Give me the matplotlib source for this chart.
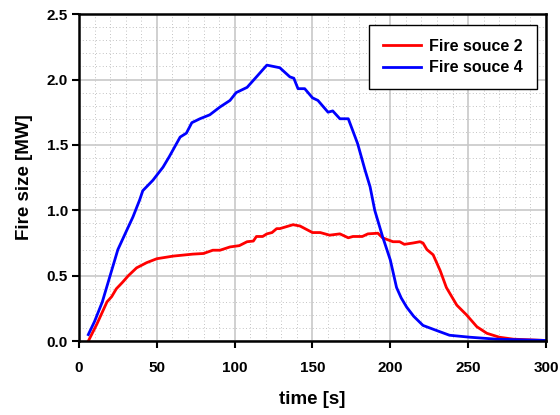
import matplotlib
matplotlib.use("Agg")
import matplotlib.pyplot as plt
from matplotlib.ticker import MultipleLocator

plt.rcParams['font.family'] = ['Liberation Sans', 'DejaVu Sans']
plt.rcParams['font.weight'] = 'bold'

t2 = [6, 11.5, 18, 21, 24, 28, 31.7, 37, 43.5, 50, 60.5, 73, 80, 86, 90.6, 97, 103, 108, 112, 114,
      118, 120.7, 124, 127, 129, 137.5, 142, 150, 155, 161, 167.6, 173, 176, 182, 185.6, 192, 195,
      201.7, 206, 209, 214.5, 219, 221, 223.5, 227.5, 232, 236, 242.7, 249, 255.6, 262, 270, 279, 300]
fs2 = [0.0, 0.13, 0.30, 0.34, 0.40, 0.45, 0.50, 0.56, 0.60, 0.63, 0.65, 0.665, 0.67, 0.695, 0.695,
       0.72, 0.73, 0.76, 0.765, 0.80, 0.80, 0.82, 0.83, 0.86, 0.86, 0.89, 0.88, 0.83, 0.83, 0.81, 0.82,
       0.79, 0.80, 0.80, 0.82, 0.825, 0.79, 0.76, 0.76, 0.74, 0.75, 0.76, 0.75, 0.70, 0.66, 0.54, 0.41,
       0.275, 0.20, 0.11, 0.06, 0.03, 0.015, 0.005]

t4 = [6, 10, 15, 20, 25, 30.8, 34.7, 39, 41, 47.5, 54, 58, 65, 69, 72.5, 77.7, 84, 90.6, 97, 101,
      108, 114, 120.7, 129, 135.5, 138, 140.7, 145, 150, 153.5, 160, 163, 167.6, 173, 179, 183.7,
      187, 190, 195, 200, 204, 207, 210.5, 215, 221, 230, 238, 251, 268, 300]
fs4 = [0.05, 0.15, 0.30, 0.50, 0.70, 0.85, 0.95, 1.08, 1.15, 1.23, 1.33, 1.41, 1.56, 1.59, 1.67,
       1.70, 1.73, 1.79, 1.84, 1.90, 1.94, 2.02, 2.11, 2.09, 2.02, 2.01, 1.93, 1.93, 1.86, 1.84, 1.75,
       1.76, 1.70, 1.70, 1.51, 1.31, 1.18, 1.00, 0.80, 0.62, 0.41, 0.33, 0.26, 0.19, 0.12, 0.08, 0.045,
       0.03, 0.015, 0.005]

labels = ['Fire souce 2', 'Fire souce 4']

fig = plt.figure(figsize=(5.6, 4.15), dpi=100)
ax = fig.add_axes([0.141, 0.178, 0.834, 0.788])

ax.plot(t2, fs2, color='#ff0000', lw=2, label=labels[0])
ax.plot(t4, fs4, color='#0000ff', lw=2, label=labels[1])

ax.set_xlim(0, 300)
ax.set_ylim(0, 2.5)
ax.xaxis.set_major_locator(MultipleLocator(50))
ax.xaxis.set_minor_locator(MultipleLocator(10))
ax.yaxis.set_major_locator(MultipleLocator(0.5))
ax.yaxis.set_minor_locator(MultipleLocator(0.1))
ax.set_yticks([0, 0.5, 1.0, 1.5, 2.0, 2.5])
ax.set_yticklabels(['0.0', '0.5', '1.0', '1.5', '2.0', '2.5'])
ax.grid(which='major', color='#c8c8c8', lw=1.2, ls='-')
ax.grid(which='minor', color='#b0b0b0', lw=0.6, ls=(0, (1, 3)))
ax.set_axisbelow(True)
ax.tick_params(which='minor', length=0)
ax.tick_params(which='major', direction='out', length=5, width=1.5, labelsize=11)
ax.tick_params(axis='x', which='major', pad=9)
ax.tick_params(axis='y', which='major', pad=3)
for lab in ax.get_xticklabels() + ax.get_yticklabels():
    lab.set_fontweight('bold')
for s in ax.spines.values():
    s.set_linewidth(1.8)

ax.set_xlabel('time [s]', fontsize=13.5, fontweight='bold', labelpad=12)
ax.set_ylabel('Fire size [MW]', fontsize=13.5, fontweight='bold', labelpad=10)

leg = ax.legend(loc='upper right', bbox_to_anchor=(0.98, 0.966), fancybox=False, edgecolor='black',
                prop={'weight': 'bold', 'size': 11.5}, handlelength=2.4, handletextpad=0.5,
                labelspacing=0.4, borderpad=0.85, borderaxespad=0, framealpha=1)
leg.get_frame().set_linewidth(1)

fig.savefig('out.png', dpi=100)
